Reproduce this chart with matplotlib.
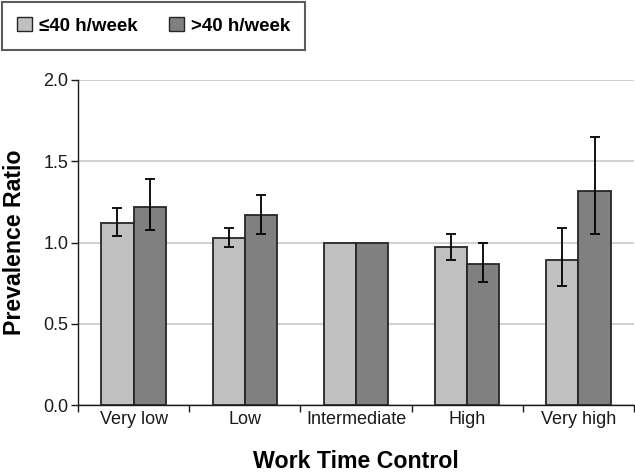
import matplotlib
matplotlib.use("Agg")
import matplotlib.pyplot as plt
import numpy as np
from matplotlib.patches import Patch

plt.rcParams['font.family'] = ['Liberation Sans', 'DejaVu Sans']

categories = ["Very low", "Low", "Intermediate", "High", "Very high"]
series_names = ["\u226440 h/week", ">40 h/week"]
le40 = [1.12, 1.03, 1.00, 0.97, 0.89]
le40_lo = [1.04, 0.97, 1.00, 0.89, 0.73]
le40_hi = [1.21, 1.09, 1.00, 1.05, 1.09]
gt40 = [1.22, 1.17, 1.00, 0.87, 1.32]
gt40_lo = [1.08, 1.05, 1.00, 0.76, 1.05]
gt40_hi = [1.39, 1.29, 1.00, 1.00, 1.65]
y_ticks = [0.0, 0.5, 1.0, 1.5, 2.0]

fig = plt.figure(figsize=(6.35, 4.74), dpi=100)
ax = fig.add_axes([78/635, 69/474, 556/635, 325/474])

x = np.arange(len(categories))
w = 0.29
colors = ["#c0c0c0", "#808080"]
edge = "#262626"

for vals, lo, hi, off, col in [(le40, le40_lo, le40_hi, -w/2, colors[0]),
                               (gt40, gt40_lo, gt40_hi, w/2, colors[1])]:
    vals = np.array(vals); lo = np.array(lo); hi = np.array(hi)
    ax.bar(x + off, vals, w, color=col, edgecolor=edge, linewidth=1.3, zorder=3)
    mask = (hi - lo) > 0.001
    ax.errorbar((x + off)[mask], vals[mask],
                yerr=[(vals - lo)[mask], (hi - vals)[mask]],
                fmt='none', ecolor='black', elinewidth=1.3, capsize=3.5,
                capthick=1.3, zorder=4)

ax.set_xlim(-0.5, len(categories) - 0.5)
ax.set_ylim(0, 2.0)
ax.set_yticks(y_ticks)
ax.set_yticklabels([f"{v:.1f}" for v in y_ticks])
ax.yaxis.grid(True, color="#c8c8c8", linewidth=1.2, zorder=0)
ax.set_axisbelow(True)

ax.set_xticks(x)
ax.set_xticklabels(categories)
ax.set_xticks(np.arange(-0.5, len(categories)), minor=True)
ax.tick_params(axis='x', which='major', length=0, labelsize=13, pad=4, colors='#1a1a1a')
ax.tick_params(axis='x', which='minor', length=5, width=1.0, direction='out', color='#1a1a1a')
ax.tick_params(axis='y', length=5, width=1.0, direction='out', labelsize=13, pad=2, colors='#1a1a1a')

for s in ['top', 'right']:
    ax.spines[s].set_visible(False)
for s in ['left', 'bottom']:
    ax.spines[s].set_color('#1a1a1a')
    ax.spines[s].set_linewidth(1.0)

ax.set_xlabel("Work Time Control", fontsize=16.7, fontweight='bold', labelpad=16)
ax.set_ylabel("Prevalence Ratio", fontsize=16.7, fontweight='bold', labelpad=12)

handles = [Patch(facecolor=colors[0], edgecolor=edge, linewidth=1.0),
           Patch(facecolor=colors[1], edgecolor=edge, linewidth=1.0)]
leg = fig.legend(handles, series_names, loc='upper left',
                 bbox_to_anchor=(2/635, 1 - 2/474), ncol=2,
                 prop={'weight': 'bold', 'size': 13.5},
                 frameon=True, fancybox=False, handlelength=0.8, handleheight=0.8,
                 handletextpad=0.35, columnspacing=1.7, borderpad=0.8,
                 borderaxespad=0)
leg.get_frame().set_edgecolor('#333333')
leg.get_frame().set_linewidth(1.5)

fig.savefig("out.png", dpi=100)
